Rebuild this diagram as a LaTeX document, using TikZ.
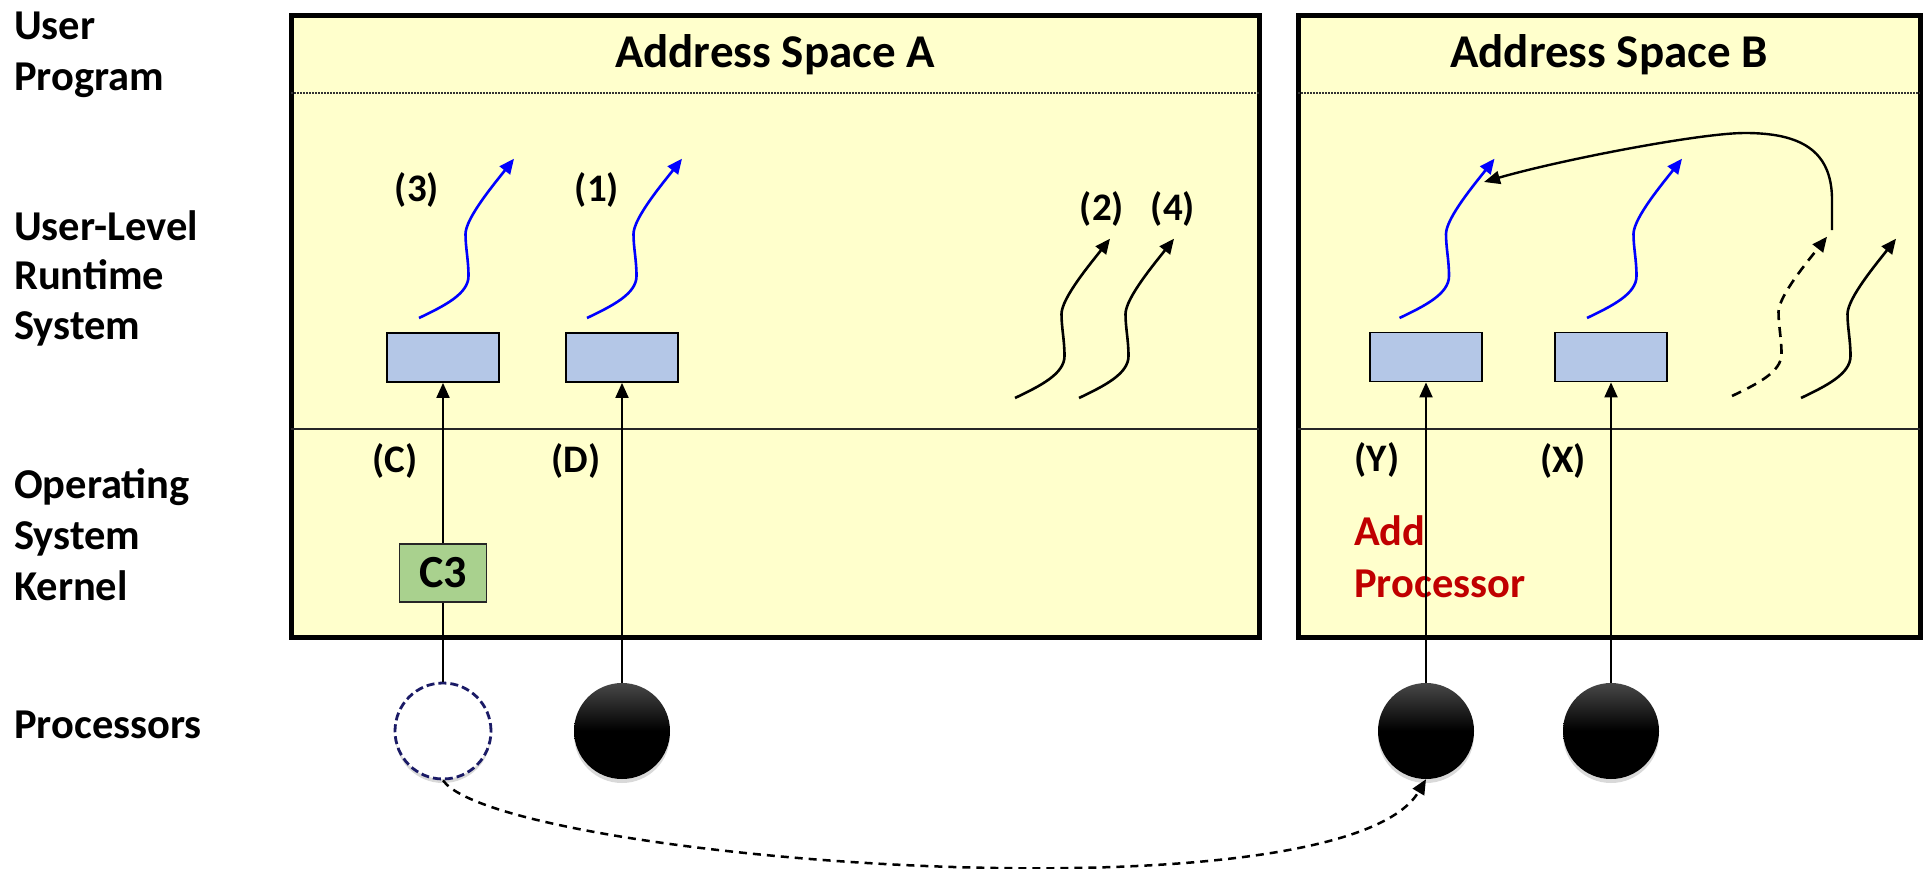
\documentclass[tikz,border=0pt]{standalone}
\usepackage{fontspec}
\setmainfont{Carlito}
\usetikzlibrary{arrows.meta,shadows}
\definecolor{boxyellow}{HTML}{FFFFCC}
\definecolor{rectblue}{HTML}{B4C7E7}
\definecolor{cgreen}{HTML}{A9D18E}
\definecolor{addred}{HTML}{C00000}
\definecolor{navyd}{HTML}{1A1A66}
\definecolor{wblue}{HTML}{0000FF}
\begin{document}
\begin{tikzpicture}[x=1pt,y=-1pt,
 space/.style={draw=black, line width=5pt, fill=boxyellow, minimum height=621pt, inner sep=0},
 layerlbl/.style={font=\fontsize{42.5}{50}\selectfont\bfseries, anchor=base west, inner sep=0},
 title/.style={font=\fontsize{47}{56}\selectfont\bfseries, anchor=base, inner sep=0},
 tag/.style={font=\fontsize{39}{44}\selectfont\bfseries, inner sep=0},
 thr/.style={draw=black, line width=1.8pt, fill=rectblue, minimum width=112pt, minimum height=49pt, inner sep=0},
 proc/.style={circle, minimum size=96pt, inner sep=0, drop shadow={opacity=0.3, shadow xshift=0pt, shadow yshift=-4pt}},
 busy/.style={proc, draw=none, top color=black!72, bottom color=black, middle color=black},
 idle/.style={proc, draw=navyd, line width=2.8pt, dash pattern=on 8pt off 4pt, fill=white},
 varrow/.style={line width=2pt, -{Triangle[length=15pt,width=13pt]}},
 wave/.style={line width=2.6pt, -{Triangle[length=15pt,width=13pt]}},
 wavepath/.style={insert path={.. controls +(25,-12) and +(0,18) .. ++(49.5,-42) .. controls +(0,-16) and +(0,14) .. ++(-3,-42) .. controls +(0,-16) and +(-18.6,23.8) .. ++(48.5,-75.3)}},
 layerline/.style={line width=2pt, black!85},
 dotline/.style={line width=1.5pt, black!80, dash pattern=on 1.5pt off 1.5pt},
]
\useasboundingbox (0,0) rectangle (1926,869);

% address spaces
\node[space, minimum width=968pt] (spA) at (775,326.5) {};
\node[space, minimum width=622pt] (spB) at (1609,326.5) {};
\draw[dotline] (291,93) -- (1259,93);
\draw[dotline] (1298,93) -- (1920,93);
\draw[layerline] (291,429) -- (1259,429);
\draw[layerline] (1298,429) -- (1920,429);

\node[title] (tA) at (775,68) {Address Space A};
\node[title] (tB) at (1609,68) {Address Space B};

% layer labels
\node[layerlbl] (l1a) at (14,40) {User};
\node[layerlbl] (l1b) at (14,90.7) {Program};
\node[layerlbl] (l2a) at (14,240) {User-Level};
\node[layerlbl] (l2b) at (14,289.5) {Runtime};
\node[layerlbl] (l2c) at (14,339) {System};
\node[layerlbl] (l3a) at (14,498) {Operating};
\node[layerlbl] (l3b) at (14,549.5) {System};
\node[layerlbl] (l3c) at (14,600.5) {Kernel};
\node[layerlbl] (l4) at (14,738) {Processors};

% tags
\node[tag] (n3) at (417,190) {(3)};
\node[tag] (n1) at (597,190) {(1)};
\node[tag] (n2) at (1102,209) {(2)};
\node[tag] (n4) at (1173,209) {(4)};
\node[tag] (nC) at (395,461) {(C)};
\node[tag] (nD) at (576,461) {(D)};
\node[tag] (nY) at (1377,460) {(Y)};
\node[tag] (nX) at (1563,461) {(X)};

\node[layerlbl, text=addred] (add1) at (1354,545) {Add};
\node[layerlbl, text=addred] (add2) at (1354,597) {Processor};

% thread control blocks
\node[thr] (tA1) at (443,357.5) {};
\node[thr] (tA2) at (622,357.5) {};
\node[thr] (tB1) at (1426,357) {};
\node[thr] (tB2) at (1611,357) {};

% processors
\node[idle] (pA1) at (443,731) {};
\node[busy] (pA2) at (622,731) {};
\node[busy] (pB1) at (1426,731) {};
\node[busy] (pB2) at (1611,731) {};

% upcall box
\node[draw=black!85, line width=1.5pt, fill=cgreen, minimum width=87pt, minimum height=58pt, inner sep=0, font=\fontsize{46}{50}\selectfont\bfseries] (c3) at (443,573) {C3};

% vertical connectors
\draw[line width=2pt] (pA1) -- (c3);
\draw[varrow] (c3) -- (tA1);
\draw[varrow] (pA2) -- (tA2);
\draw[varrow] (pB1) -- (tB1);
\draw[varrow] (pB2) -- (tB2);

% processor migration
\draw[line width=2.5pt, dash pattern=on 8pt off 6pt, -{Triangle[length=15pt,width=13pt]}] (pA1.south) .. controls (500,860) and (1340,925) .. (pB1.south);

% threads
\draw[wave, wblue] (419,318) [wavepath];
\draw[wave, wblue] (587,318) [wavepath];
\draw[wave] (1015,398) [wavepath];
\draw[wave] (1079,398) [wavepath];
\draw[wave, wblue] (1399.5,318) [wavepath];
\draw[wave, wblue] (1587,318) [wavepath];
\draw[wave, dash pattern=on 10pt off 7pt] (1732,396) [wavepath];
\draw[wave] (1801,398) [wavepath];

% loop arrow
\coordinate (loopS) at (1832,230);
\coordinate (loopE) at (1484,182);
\draw[line width=2.4pt, -{Triangle[length=16pt,width=13pt]}] (loopS) -- (1832,200) .. controls (1832,150) and (1800,133) .. (1745,133) .. controls (1700,133) and (1560,160) .. (loopE);
\end{tikzpicture}
\end{document}
